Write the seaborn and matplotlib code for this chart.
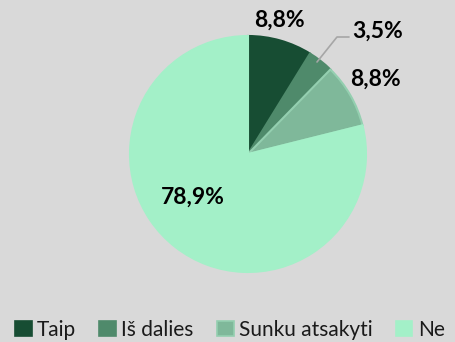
import matplotlib
matplotlib.use("Agg")
import matplotlib.pyplot as plt
from matplotlib.patches import Patch
import seaborn as sns

categories = ["Taip", "Iš dalies", "Sunku atsakyti", "Ne"]
values = [8.8, 3.5, 8.8, 78.9]
labels = ["8,8%", "3,5%", "8,8%", "78,9%"]
colors = ["#174d33", "#4f8a6b", "#7fb89a", "#a3f0c8"]
edge_colors = ["#174d33", "#4f8a6b", "#94cfb0", "#a3f0c8"]

sns.set_theme(style="white")
plt.rcParams["font.family"] = ["Lato", "DejaVu Sans"]

bg = "#d9d9d9"
fig = plt.figure(figsize=(4.55, 3.42), dpi=100, facecolor=bg)
ax = fig.add_axes([0, 0, 1, 1], facecolor=bg)

cx, cy, r = 248, 188, 118
wedges, _ = ax.pie(values, colors=colors, startangle=90, counterclock=False,
                   center=(cx, cy), radius=r, frame=True)
for w, ec in zip(wedges, edge_colors):
    w.set_edgecolor(ec)
    w.set_linewidth(1.5)
ax.set_xlim(0, 455)
ax.set_ylim(0, 342)
ax.set_aspect("equal")
ax.axis("off")

# leader line for the small slice
ax.plot([317, 337, 349], [342 - 62, 342 - 37, 342 - 37], color="#a6a6a6", lw=1.2)

label_pos = [(279, 20), (378, 31), (375, 79), (193, 197)]
for (x, y), t in zip(label_pos, labels):
    ax.text(x, 342 - y, t, ha="center", va="center", fontsize=16.5,
            fontweight="bold", color="black")

handles = [Patch(facecolor=c, edgecolor=e, linewidth=1.2) for c, e in zip(colors, edge_colors)]
fig.legend(handles, categories, loc="lower center", bbox_to_anchor=(0.505, -0.03),
           ncol=4, frameon=False, fontsize=15, handlelength=0.8, handleheight=0.8,
           handletextpad=0.25, columnspacing=1.12, borderaxespad=0.2,
           labelcolor="#1a1a1a")

fig.savefig("out.png", dpi=100, facecolor=bg)
